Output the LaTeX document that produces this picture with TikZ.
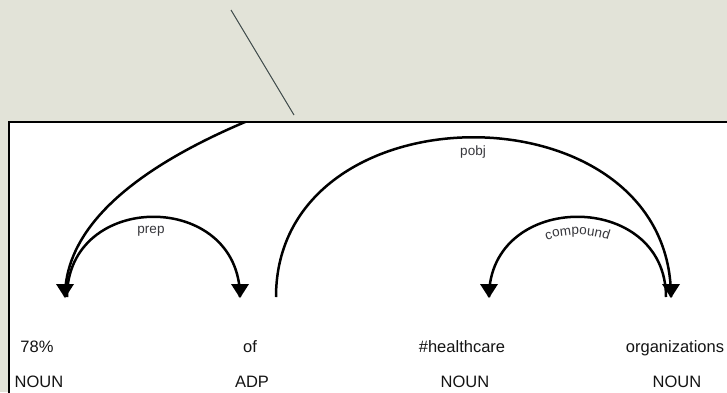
\documentclass[tikz,border=0pt]{standalone}
\usepackage{fontspec}
\setmainfont{Liberation Sans}
\usetikzlibrary{decorations.text}
\definecolor{panel}{RGB}{226,227,216}
\definecolor{ink}{RGB}{20,20,20}
\definecolor{labelink}{RGB}{55,55,60}
\definecolor{pointer}{RGB}{60,72,72}

\begin{document}
\begin{tikzpicture}[x=1pt,y=-1pt,
  arc/.style={line width=2.5pt, draw=black},
  pics/headtip/.style={code={\fill[black] (-9,-13) -- (9,-13) -- (0,1) -- cycle;}},
  word/.style={anchor=base, font=\fontsize{16.5}{18}\selectfont, text=ink, inner sep=0pt},
  deplabel/.style={anchor=base, font=\fontsize{13.5}{15}\selectfont, text=labelink, inner sep=0pt}]

% canvas and pointer line
\useasboundingbox (0,0) rectangle (727,392);
\fill[panel] (0,0) rectangle (727,392);
\draw[pointer, line width=1pt] (231,10) -- (294,115);
\filldraw[fill=white, draw=black, line width=2pt] (9,122) rectangle (745,410);

% arc end points
\coordinate (t0)  at (65,297);
\coordinate (t0p) at (67,297);
\coordinate (t1)  at (240,297);
\coordinate (t1r) at (276,297);
\coordinate (t2)  at (489,297);
\coordinate (t3)  at (671,297);
\coordinate (t3c) at (666,297);
\coordinate (root) at (3065,297);

% long arc from a distant head, cut by the frame
\begin{scope}
  \clip (10,123) rectangle (727,392);
  \draw[arc] (root) .. controls +(0,-460) and +(0,-460) .. (t0);
\end{scope}

% dependency arcs
\draw[arc] (t0p) .. controls +(0,-107) and +(0,-107) .. (t1);
\draw[arc] (t1r) .. controls +(0,-213) and +(0,-213) .. (t3);
\draw[arc] (t3c) .. controls +(0,-107) and +(0,-107) .. (t2);

% arrowheads on the dependents
\pic at (t0) {headtip};
\pic at (t1) {headtip};
\pic at (t2) {headtip};
\pic at (t3) {headtip};

% arc labels
\node[deplabel] (lprep) at (151,233) {prep};
\node[deplabel] (lpobj) at (473,155) {pobj};
\path[decorate, decoration={text along path,
    text={|\fontsize{13.5}{15}\selectfont\color{labelink}|compound},
    text align=center}]
  (505,297) .. controls (505,214) and (650,214) .. (650,297);

% tokens and tags
\node[word] (w0) at (37,352) {78\%};
\node[word] (p0) at (39,387) {NOUN};
\node[word] (w1) at (250,352) {of};
\node[word] (p1) at (252,387) {ADP};
\node[word] (w2) at (462,352) {\#healthcare};
\node[word] (p2) at (465,387) {NOUN};
\node[word] (w3) at (675,352) {organizations};
\node[word] (p3) at (677,387) {NOUN};
\end{tikzpicture}
\end{document}
